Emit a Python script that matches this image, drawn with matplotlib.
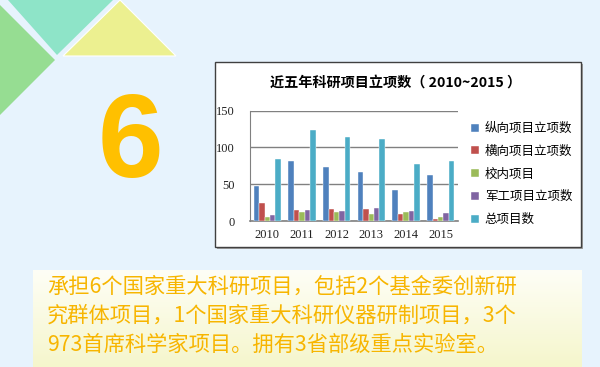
import matplotlib
matplotlib.use("Agg")
import matplotlib.pyplot as plt
import numpy as np
from matplotlib.patches import Polygon, Rectangle

plt.rcParams['font.family'] = ['Noto Sans CJK SC', 'DejaVu Sans']

# ---- data ----
years = ['2010', '2011', '2012', '2013', '2014', '2015']
series_names = ['纵向项目立项数', '横向项目立项数', '校内项目', '军工项目立项数', '总项目数']
zongxiang = [47, 81, 73, 67, 42, 63]
hengxiang = [24, 15, 16, 16, 9, 3]
xiaonei = [5, 12, 12, 10, 12, 5]
jungong = [8, 15, 13, 18, 14, 11]
total = [84, 123, 114, 111, 77, 82]
yticks = [0, 50, 100, 150]
title = '近五年科研项目立项数（ 2010~2015 ）'
big_number = '6'
body_lines = ['承担6个国家重大科研项目，包括2个基金委创新研',
              '究群体项目，1个国家重大科研仪器研制项目，3个',
              '973首席科学家项目。拥有3省部级重点实验室。']

colors = ['#4F81BD', '#C0504D', '#9BBB59', '#8064A2', '#4BACC6']

W, H = 600, 367
fig = plt.figure(figsize=(W / 100, H / 100), dpi=100)
fig.patch.set_facecolor('#E7F3FD')

# background axes in pixel coordinates
bg = fig.add_axes([0, 0, 1, 1])
bg.set_xlim(0, W)
bg.set_ylim(H, 0)
bg.axis('off')

# decorative triangles
bg.add_patch(Polygon([(8, 0), (113, 0), (57, 55)], closed=True, fc='#8EE4C8', ec='none'))
bg.add_patch(Polygon([(0, 5), (55, 60), (0, 115)], closed=True, fc='#96DD92', ec='none'))
bg.add_patch(Polygon([(120, 0), (176, 56), (63, 56)], closed=True, fc='#ECF090', ec='white', lw=0.8))

# big number
bg.text(130, 147, big_number, fontsize=85, fontweight='bold', color='#FFC000',
        ha='center', va='center', family=['Liberation Sans', 'DejaVu Sans'])

# chart box with shadow
bg.add_patch(Rectangle((217, 64), 366, 185, fc='#A0A0A0', ec='none'))
bg.add_patch(Rectangle((215, 62), 366, 185, fc='white', ec='#404040', lw=1))

# text box gradient
grad = np.linspace(0, 1, 100)[:, None]
c1 = np.array([254, 254, 246]) / 255
c2 = np.array([245, 246, 204]) / 255
img = c1[None, None, :] * (1 - grad[:, :, None]) + c2[None, None, :] * grad[:, :, None]
img = np.repeat(img, 2, axis=1)
bg.imshow(img, extent=(33, 582, 367, 270), aspect='auto', zorder=1)
bg.set_xlim(0, W)
bg.set_ylim(H, 0)

for i, line in enumerate(body_lines):
    bg.text(47, [287, 316, 345][i], line, fontsize=15.3, color='#F7B500',
            ha='left', va='center', zorder=3)

# title
bg.text(396, 83, title, fontsize=10.2, fontweight='bold', color='black',
        ha='center', va='center')

# chart axes
ax = fig.add_axes([250 / W, 1 - 221 / H, 208 / W, 110.5 / H])
x = np.arange(len(years))
data = [zongxiang, hengxiang, xiaonei, jungong, total]
n = len(data)
group = 0.78
bw = group / n
handles = []
for i, (vals, col, name) in enumerate(zip(data, colors, series_names)):
    b = ax.bar(x - group / 2 + bw * (i + 0.5), vals, width=bw, color=col,
               edgecolor='white', linewidth=0.3, label=name, zorder=3)
    handles.append(b)

ax.set_xlim(-0.5, len(years) - 0.5)
ax.set_ylim(0, 150)
ax.set_yticks(yticks)
ax.set_xticks(x)
ax.set_xticklabels(years)
ax.grid(axis='y', color='#808080', linewidth=1, zorder=0)
ax.set_axisbelow(True)
for s in ['top', 'right']:
    ax.spines[s].set_visible(False)
ax.spines['left'].set_color('#808080')
ax.spines['bottom'].set_color('#808080')
ax.spines['bottom'].set_linewidth(1.2)
ax.tick_params(axis='both', length=0, labelsize=9, colors='#222222', pad=6)
for lab in ax.get_xticklabels() + ax.get_yticklabels():
    lab.set_family(['Liberation Serif', 'DejaVu Serif'])
ax.tick_params(axis='y', pad=11)
ax.set_facecolor('white')

leg = ax.legend(handles=handles, loc='upper left', bbox_to_anchor=(471 / W, 1 - 122 / H),
                bbox_transform=fig.transFigure, frameon=False, fontsize=9,
                handlelength=0.6, handleheight=0.6, handletextpad=0.5,
                labelspacing=0.78, borderaxespad=0, borderpad=0)

fig.savefig('out.png', dpi=100, facecolor=fig.get_facecolor())
